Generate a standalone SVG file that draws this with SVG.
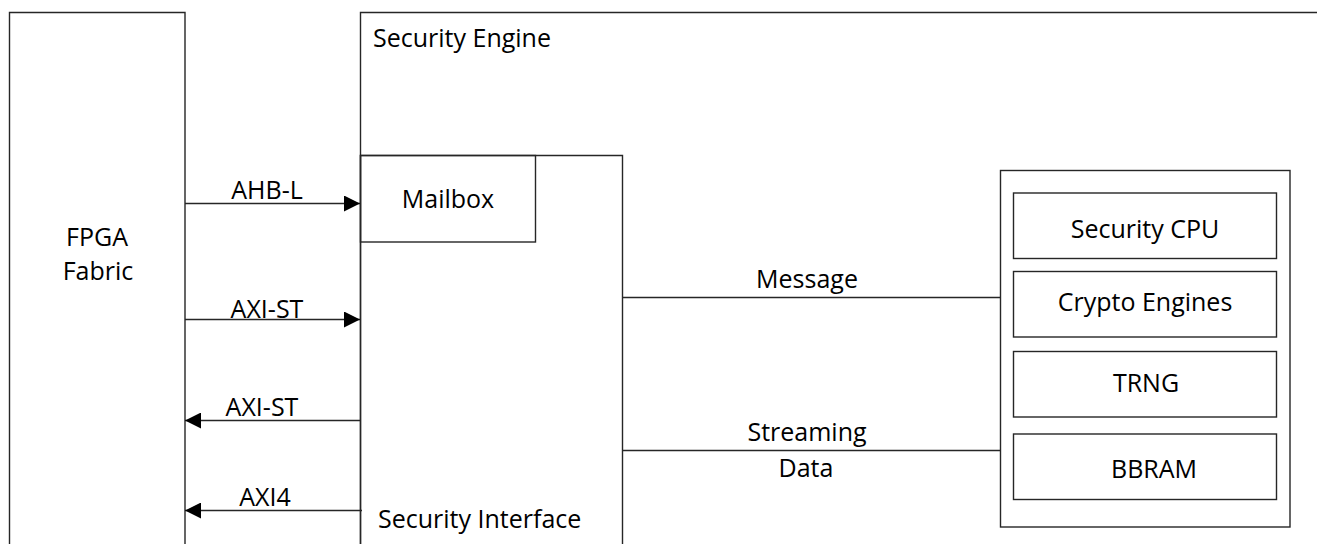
<svg xmlns="http://www.w3.org/2000/svg" width="1317" height="544" viewBox="0 0 1317 544">
<defs>
<style>
.box{fill:none;stroke:#262626;stroke-width:1.4}
.wire{fill:none;stroke:#262626;stroke-width:1.4}
text{font-family:"Open Sans","Noto Sans","Liberation Sans",sans-serif;font-size:25px;fill:#000}
.c{text-anchor:middle}
</style>
<marker id="arr" viewBox="0 0 16 16" refX="16" refY="8" markerWidth="16" markerHeight="16" markerUnits="userSpaceOnUse" orient="auto">
<path d="M0,0 L16,8 L0,16 Z" fill="#000"/>
</marker>
</defs>
<rect width="1317" height="544" fill="#fff"/>
<g id="fpga">
<path class="box" d="M9.5,560 V12.5 H185 V560"/>
<text class="c" x="97" y="246">FPGA</text>
<text class="c" x="98" y="280">Fabric</text>
</g>
<g id="security-engine">
<path class="box" d="M360.5,560 V12.5 H1330"/>
<text x="373" y="47">Security Engine</text>
</g>
<g id="security-interface">
<path class="box" d="M360.5,560 V155.5 H622.5 V560"/>
<text x="378" y="528">Security Interface</text>
</g>
<g id="mailbox">
<rect class="box" x="360.5" y="155.5" width="175" height="86.5"/>
<text class="c" x="448" y="208">Mailbox</text>
</g>
<g id="security-subsystem">
<rect class="box" x="1000.5" y="170.5" width="289.5" height="356.5"/>
</g>
<g id="security-cpu">
<rect class="box" x="1013.5" y="193" width="263" height="65.5"/>
<text class="c" x="1145" y="238">Security CPU</text>
</g>
<g id="crypto-engines">
<rect class="box" x="1013.5" y="271.5" width="263" height="65.5"/>
<text class="c" x="1145" y="311">Crypto Engines</text>
</g>
<g id="trng">
<rect class="box" x="1013.5" y="351.5" width="263" height="65.5"/>
<text class="c" x="1146" y="392">TRNG</text>
</g>
<g id="bbram">
<rect class="box" x="1013.5" y="434" width="263" height="65.5"/>
<text class="c" x="1154" y="478">BBRAM</text>
</g>
<g id="connectors">
<line class="wire" x1="185" y1="203.5" x2="360" y2="203.5" marker-end="url(#arr)"/>
<text class="c" x="267" y="199">AHB-L</text>
<line class="wire" x1="185" y1="319.5" x2="360" y2="319.5" marker-end="url(#arr)"/>
<text class="c" x="267" y="318">AXI-ST</text>
<line class="wire" x1="360" y1="420.5" x2="185" y2="420.5" marker-end="url(#arr)"/>
<text class="c" x="262" y="416">AXI-ST</text>
<line class="wire" x1="362" y1="510.5" x2="185" y2="510.5" marker-end="url(#arr)"/>
<text class="c" x="265" y="506">AXI4</text>
<line class="wire" x1="622.5" y1="297.5" x2="1000.5" y2="297.5"/>
<text class="c" x="807" y="288">Message</text>
<line class="wire" x1="622.5" y1="450.5" x2="1000.5" y2="450.5"/>
<text class="c" x="807" y="441">Streaming</text>
<text class="c" x="806" y="477">Data</text>
</g>
</svg>
